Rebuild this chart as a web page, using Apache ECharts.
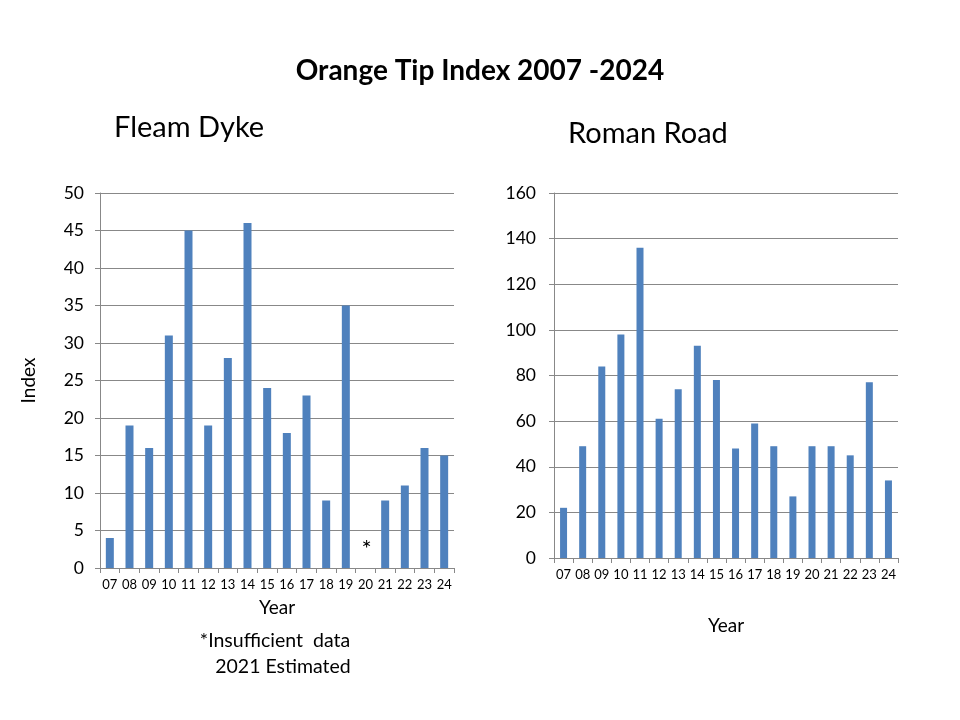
<!DOCTYPE html>
<html><head><meta charset="utf-8">
<script src="https://cdn.jsdelivr.net/npm/echarts@6/dist/echarts.min.js"></script>
<style>html,body{margin:0;padding:0;background:#fff}#c{width:960px;height:720px}</style>
</head><body><div id="c"></div>
<script>
const years = ['07','08','09','10','11','12','13','14','15','16','17','18','19','20','21','22','23','24'];
const fleamDyke = [4,19,16,31,45,19,28,46,24,18,23,9,35,null,9,11,16,15];
const romanRoad = [22,49,84,98,136,61,74,93,78,48,59,49,27,49,49,45,77,34];
const missingMark = '*';

const FONT = 'Lato, "Open Sans", sans-serif';
const BAR = '#4F81BD';
const chart = echarts.init(document.getElementById('c'));

const fleamData = fleamDyke.map(v => v === null
  ? {value: 0, itemStyle:{color:'rgba(0,0,0,0)'}, label:{show:true, formatter: missingMark, position:'top', offset:[1,-2], color:'#000', fontSize:24, fontFamily:FONT}}
  : v);

function xAxis(gridIndex, nameGap){
  return {
    type:'category', data:years, gridIndex,
    name:'Year', nameLocation:'middle', nameGap,
    nameTextStyle:{fontSize:19, color:'#000', fontFamily:FONT},
    axisLine:{lineStyle:{color:'#888'}},
    axisTick:{show:true, length:5, lineStyle:{color:'#888'}},
    axisLabel:{fontSize:13, color:'#000', fontFamily:FONT, margin:10, interval:0}
  };
}
function yAxis(gridIndex, max, interval, name, margin){
  return {
    type:'value', gridIndex, min:0, max, interval,
    name, nameLocation:'middle', nameGap:62,
    nameTextStyle:{fontSize:19, color:'#000', fontFamily:FONT},
    axisLine:{show:true, lineStyle:{color:'#888'}},
    axisTick:{show:true, length:5, lineStyle:{color:'#888'}},
    axisLabel:{fontSize:17.5, color:'#000', fontFamily:FONT, margin},
    splitLine:{lineStyle:{color:'#888', width:1}}
  };
}

chart.setOption({
  animation:false,
  title:[
    {text:'Orange Tip Index 2007 -2024', left:'center', top:52, textStyle:{fontSize:28, fontWeight:'bold', color:'#000', fontFamily:FONT}},
    {text:'Fleam Dyke', left:109, top:108, textStyle:{fontSize:29, fontWeight:'normal', color:'#000', fontFamily:FONT}},
    {text:'Roman Road', left:563, top:114, textStyle:{fontSize:29, fontWeight:'normal', color:'#000', fontFamily:FONT}},
    {text:'*Insufficient  data', left:270, textAlign:'center', top:626, textStyle:{fontSize:19.5, fontWeight:'normal', color:'#000', fontFamily:FONT}},
    {text:'2021 Estimated', left:278, textAlign:'center', top:652, textStyle:{fontSize:19.5, fontWeight:'normal', color:'#000', fontFamily:FONT}}
  ],
  grid:[
    {left:100, top:193, width:354, height:375},
    {left:554, top:193, width:344, height:365}
  ],
  xAxis:[xAxis(0, 30), xAxis(1, 58)],
  yAxis:[yAxis(0, 50, 5, 'Index', 16), yAxis(1, 160, 20, '', 18)],
  series:[
    {type:'bar', xAxisIndex:0, yAxisIndex:0, data:fleamData, barWidth:8, itemStyle:{color:BAR}},
    {type:'bar', xAxisIndex:1, yAxisIndex:1, data:romanRoad, barWidth:7, itemStyle:{color:BAR}}
  ]
});
</script></body></html>
